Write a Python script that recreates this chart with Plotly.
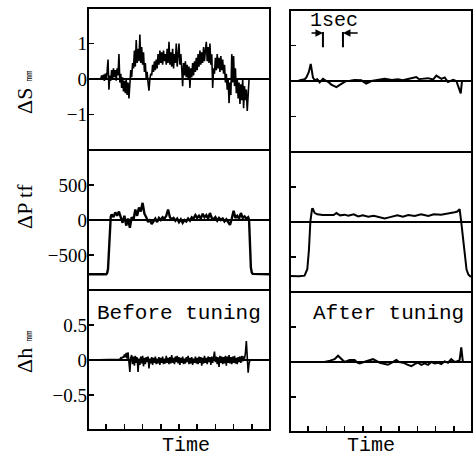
import plotly.graph_objects as go

W, H = 473, 457

# ---------------- data (time in s, 0..10 per panel) ----------------
# Before tuning: dS (mm), sampled every 0.05 s starting at 0.7 s
s_before_start, s_before_step = 0.7, 0.05
s_before = [0.0, 0.1, -0.02, 0.12, -0.05, 0.15, 0.0, 0.2, 0.55, -0.3,
            0.1, -0.05, 0.25, 0.0, 0.3, 0.05, 0.25, -0.05, 0.3, 0.1,
            0.7, -0.1, 0.15, -0.25, 0.05, -0.35, -0.05, -0.4, 0.0, -0.45,
            -0.1, -0.55, -0.05, 0.25, 0.05, 0.45, 0.3, 0.8, 0.35, 1.1,
            0.45, 0.85, 0.5, 1.25, 0.45, 0.9, 0.4, 0.75, 0.2, 0.45,
            0.0, 0.2, -0.1, -0.33, 0.0, 0.15, 0.1, 0.4, 0.2, 0.5,
            0.25, 0.55, 0.3, 0.7,
            0.4, 0.8, 0.45, 0.75, 0.4, 0.8, 0.5, 0.7, 0.4, 0.85,
            0.45, 1.05, 0.4, 0.75, 0.35, 0.85, 0.3, 0.7, 0.45, 1.0,
            0.35, 0.7,
            1.0, 0.4, 0.7, 0.3, -0.2, 0.45, 0.1, 0.5, 0.05, 0.4,
            0.0, 0.35, -0.25, 0.3, 0.05, 0.45, 0.1, 0.5, 0.2, 0.6,
            0.25, 0.7, 0.35, 0.8, 0.4, 0.75, 0.45, 0.9, 0.5, 0.8,
            1.05, 0.5, 0.9, 0.45, 1.0, 0.4, 0.7, -0.25, 0.3, 0.15,
            0.6, 0.25, 0.7, 0.3, 0.6, 0.2, 0.65, 0.25, 0.55, 0.15,
            0.4, -0.1, 0.15, -0.3, 0.0, -0.68, -0.1, -0.45, 0.7, -0.1,
            0.65, -0.2, 0.3, -0.4, 0.0, -0.55, -0.1, -0.7, -0.15, -0.6,
            0.0, -0.82, -0.2, -0.6, -0.3, -0.9]
s_before_lead_t, s_before_lead = [0.0, 0.65], [0.0, 0.0]
s_before_tail_t, s_before_tail = [8.85, 10.0], [0.0, 0.0]

# Before tuning: dP (tf)
p_before_rise_t = [0.0, 1.0, 1.05, 1.1, 1.15, 1.2, 1.25]
p_before_rise = [-775, -775, -760, -700, -450, -100, 50]
p_before_start, p_before_step = 1.3, 0.1
p_before = [80, 40, 110, 60, 120, 20, -40, 60, -80, 20,
            -110, 40, 0, 150, 60, 180, 120, 245, 90, 40,
            -30, 10, -60, -20, 20, -30, 30, 0, 40, 20,
            60, 150, 40, 10, 30, -10, 20, -30, 10, -40,
            0, -20, 20, -10, 40, 20, 70, 30, 60, 20,
            90, 40, 70, 20, 100, 30, 10, 40, -10, 30,
            0, 20, -20, 10, -40, -70, 20, 130, 30, 60,
            20, 100, 30, 50, 20, 40]
p_before_fall_t = [8.85, 8.9, 8.95, 9.0, 9.05, 10.0]
p_before_fall = [0, -350, -680, -750, -770, -775]

# Before tuning: dh (mm), every 0.05 s from 1.75 s
h_before_lead_t, h_before_lead = [0.0, 1.7], [0.0, 0.0]
h_before_start, h_before_step = 1.75, 0.05
h_before = [0.01, 0.03, 0.02, 0.05, 0.03, 0.08, 0.04, 0.1, 0.02, 0.11,
            -0.05, -0.17, 0.03, 0.07, -0.06, 0.05, -0.08, 0.06, -0.04, 0.04,
            -0.17, 0.02, -0.07, 0.05, -0.05, 0.06, -0.09, 0.03, -0.06, 0.04,
            -0.03, 0.05, -0.12, 0.02, -0.05, 0.04, -0.07, 0.03, -0.04, 0.05,
            -0.06, 0.02, -0.05, 0.04, -0.07, 0.03, -0.04, 0.05, -0.06, 0.02,
            -0.05, 0.06, -0.04, 0.03, -0.06, 0.04, -0.05, 0.07, -0.04, 0.03,
            -0.06, 0.05, -0.03, 0.06, -0.05, 0.04, -0.07, 0.03, -0.04, 0.05,
            -0.06, 0.02, -0.05, 0.04, -0.03, 0.06, -0.06, 0.03, -0.05, 0.04,
            -0.07, 0.02, -0.04, 0.05, -0.05, 0.03, -0.06, 0.05, -0.04, 0.04,
            -0.08, 0.03, -0.05, 0.06, -0.04, 0.03, -0.06, 0.05, -0.03, 0.04,
            -0.07, 0.05, -0.04, 0.06, 0.12, -0.03, 0.05, -0.06, 0.04, -0.1,
            0.06, -0.04, 0.05, -0.06, 0.04, -0.05, 0.06, -0.08, 0.05, -0.04,
            0.07, -0.05, 0.04, -0.06, 0.05, -0.04, 0.06, -0.05, 0.03, -0.06,
            0.04, -0.03, 0.05, -0.04, 0.06, -0.02, 0.05, 0.02, 0.1, 0.27,
            0.05, -0.18, -0.05, 0.0]
h_before_tail_t, h_before_tail = [10.0], [0.0]

# After tuning: dS (mm)
s_after_t = [0, 0.44, 0.6, 0.81, 0.9, 1.03, 1.14, 1.2, 1.26, 1.36, 1.5, 1.63, 1.81,
             2.0, 2.09, 2.27, 2.55, 2.82, 3.1, 3.3, 3.55, 3.92, 4.19, 4.47, 4.8,
             5.2, 5.6, 5.93, 6.2, 6.39, 6.6, 6.94, 7.1, 7.22, 7.58, 7.86, 8.04,
             8.32, 8.5, 8.68, 8.96, 9.14, 9.27, 9.38, 9.45, 9.6, 10]
s_after = [0, 0.0, 0.03, 0.05, 0.1, 0.25, 0.48, 0.2, 0.1, 0.02, 0.05, -0.04, 0.06,
           0.0, -0.02, -0.1, -0.17, -0.08, 0.0, 0.01, 0.03, 0.02, -0.07, 0.0, 0.03,
           0.06, 0.03, 0.05, 0.02, 0.05, 0.07, 0.11, 0.05, 0.06, 0.08, 0.04, 0.15,
           0.06, 0.1, -0.03, 0.03, 0.0, -0.2, -0.35, 0.0, 0.0, 0]

# After tuning: dP (tf)
p_after_t = [0, 0.5, 0.8, 0.95, 1.04, 1.12, 1.21, 1.26, 1.35, 1.5, 1.8, 2.1, 2.4,
             2.55, 2.75, 3.0, 3.2, 3.5, 3.75, 4.0, 4.3, 4.6, 4.9, 5.2, 5.5, 5.9,
             6.2, 6.5, 6.85, 7.2, 7.6, 7.9, 8.3, 8.7, 9.05, 9.2, 9.32, 9.4, 9.5,
             9.56, 9.7, 9.8, 9.9, 10]
p_after = [-770, -775, -766, -675, -400, 10, 185, 188, 130, 110, 100, 95, 100,
           128, 95, 105, 90, 110, 80, 95, 75, 90, 70, 50, 70, 96,
           75, 100, 85, 110, 85, 110, 105, 120, 140, 150, 185, 20, -250,
           -400, -680, -750, -775, -780]

# After tuning: dh (mm)
h_after_t = [0, 1.9, 2.2, 2.45, 2.64, 2.8, 3.0, 3.28, 3.55, 3.7, 3.83, 4.19, 4.56,
             4.93, 5.15, 5.38, 5.6, 5.84, 6.0, 6.21, 6.48, 6.67, 6.85, 7.03, 7.22,
             7.4, 7.58, 7.77, 7.95, 8.13, 8.31, 8.5, 8.68, 8.86, 9.05, 9.2, 9.32,
             9.41, 9.5, 9.6, 10]
h_after = [0, 0, 0.02, 0.04, 0.09, 0.05, 0.0, 0.03, 0.03, -0.01, -0.02, 0.01, 0.04,
           -0.01, -0.03, -0.04, -0.01, 0.03, 0.0, -0.01, -0.04, -0.06, -0.03, -0.01, -0.04,
           -0.02, -0.04, 0.0, -0.02, -0.01, -0.03, 0.01, -0.01, 0.04, 0.0, 0.01, 0.03,
           0.21, 0.0, 0.0, 0]

# tick labels
s_ticks, s_ticktext = [-1, 0, 1], ["\u22121", "0", "1"]
p_ticks, p_ticktext = [-500, 0, 500], ["\u2212500", "0", "500"]
h_ticks, h_ticktext = [-0.5, 0, 0.5], ["\u22120.5", "0", "0.5"]
time_ticks = [1, 2, 3, 4, 5, 6, 7, 8, 9]


def uniform(start, step, vals):
    return [round(start + step * i, 4) for i in range(len(vals))]


sb_t = s_before_lead_t + uniform(s_before_start, s_before_step, s_before) + s_before_tail_t
sb_y = s_before_lead + s_before + s_before_tail
pb_t = p_before_rise_t + uniform(p_before_start, p_before_step, p_before) + p_before_fall_t
pb_y = p_before_rise + p_before + p_before_fall
hb_t = h_before_lead_t + uniform(h_before_start, h_before_step, h_before) + h_before_tail_t
hb_y = h_before_lead + h_before + h_before_tail

fig = go.Figure()
traces = [
    (sb_t, sb_y, "x", "y", 1.6),
    (s_after_t, s_after, "x2", "y2", 2.0),
    (pb_t, pb_y, "x3", "y3", 2.4),
    (p_after_t, p_after, "x4", "y4", 2.0),
    (hb_t, hb_y, "x5", "y5", 1.6),
    (h_after_t, h_after, "x6", "y6", 2.0),
]
for xs, ys, xa, ya, lw in traces:
    fig.add_trace(go.Scatter(x=xs, y=ys, xaxis=xa, yaxis=ya, mode="lines",
                             line=dict(color="black", width=lw), showlegend=False,
                             hoverinfo="skip"))


def px_x(p):
    return p / W


def px_y(p):
    return 1 - p / H


left_px = (88, 270)
right_px = (290, 472)
left_rows = [(8, 150), (150, 290), (290, 430)]
right_rows = [(10, 152), (152, 292), (292, 432)]

tickfont = dict(family="Liberation Serif", size=19, color="black")
ranges = [[-2, 2], [-1000, 1000], [-1, 1]]
tv = [(s_ticks, s_ticktext), (p_ticks, p_ticktext), (h_ticks, h_ticktext)]

layout = dict(width=W, height=H, margin=dict(l=0, r=0, t=0, b=0),
              paper_bgcolor="white", plot_bgcolor="white", showlegend=False)

shapes = []
for row in range(3):
    for col in range(2):
        idx = row * 2 + col + 1
        sfx = "" if idx == 1 else str(idx)
        rows = left_rows if col == 0 else right_rows
        top, bot = rows[row]
        xp = left_px if col == 0 else right_px
        bottom_row = row == 2
        layout["xaxis" + sfx] = dict(
            domain=[px_x(xp[0]), px_x(xp[1])], range=[0, 10], anchor="y" + sfx,
            showgrid=False, zeroline=False, showline=False,
            ticks="inside" if bottom_row else "", tickvals=time_ticks,
            ticklen=6, tickwidth=1.5, tickcolor="black", showticklabels=False,
            fixedrange=True)
        layout["yaxis" + sfx] = dict(
            domain=[px_y(bot), px_y(top)], range=ranges[row], anchor="x" + sfx,
            showgrid=False, zeroline=True, zerolinecolor="black", zerolinewidth=1.5,
            showline=False,
            ticks="inside", tickvals=tv[row][0], ticktext=tv[row][1],
            ticklen=6, tickwidth=1.5, tickcolor="black",
            showticklabels=(col == 0), tickfont=tickfont, fixedrange=True)

# panel frames and row separators
for xp, rows in ((left_px, left_rows), (right_px, right_rows)):
    shapes.append(dict(type="rect", xref="paper", yref="paper",
                       x0=px_x(xp[0]), x1=px_x(xp[1]),
                       y0=px_y(rows[2][1]), y1=px_y(rows[0][0]),
                       line=dict(color="black", width=2), layer="above"))
    for r in range(2):
        shapes.append(dict(type="line", xref="paper", yref="paper",
                           x0=px_x(xp[0]), x1=px_x(xp[1]),
                           y0=px_y(rows[r][1]), y1=px_y(rows[r][1]),
                           line=dict(color="black", width=2), layer="above"))

fig.update_layout(**layout)

mono = "Liberation Mono"
serif = "Liberation Serif"
ann = []


def text(x, y, s, size, family, angle=0, xanchor="center"):
    ann.append(dict(x=px_x(x), y=px_y(y), xref="paper", yref="paper", text=s,
                    showarrow=False, textangle=angle, xanchor=xanchor, yanchor="middle",
                    font=dict(family=family, size=size, color="black")))


text(24, 92, "\u0394S <span style='font-size:12px'>\u339c</span>", 22, serif, -90)
text(24, 207, "\u0394P tf", 22, serif, -90)
text(24, 352, "\u0394h <span style='font-size:12px'>\u339c</span>", 22, serif, -90)
text(179, 313, "Before tuning", 21, mono)
text(388, 313, "After tuning", 21, mono)
text(186, 445, "Time", 20, mono)
text(371, 445, "Time", 20, mono)
text(334, 20, "1sec", 20, mono)

# 1 sec marker arrows (in right-top data coordinates)
ann.append(dict(x=1.81, y=1.35, ax=1.1, ay=1.35, xref="x2", yref="y2",
                axref="x2", ayref="y2", showarrow=True, arrowhead=2, arrowsize=1,
                arrowwidth=1.5, arrowcolor="black", text=""))
ann.append(dict(x=2.91, y=1.35, ax=3.8, ay=1.35, xref="x2", yref="y2",
                axref="x2", ayref="y2", showarrow=True, arrowhead=2, arrowsize=1,
                arrowwidth=1.5, arrowcolor="black", text=""))
shapes.append(dict(type="line", xref="x2", yref="y2", x0=1.81, x1=1.81, y0=1.38, y1=0.95,
                   line=dict(color="black", width=2)))
shapes.append(dict(type="line", xref="x2", yref="y2", x0=2.91, x1=2.91, y0=1.38, y1=0.95,
                   line=dict(color="black", width=2)))
fig.update_layout(annotations=ann, shapes=shapes)

fig.write_html("out.html", config={"displayModeBar": False, "staticPlot": True},
               post_script="document.body.style.margin='0';document.body.style.overflow='hidden';")
